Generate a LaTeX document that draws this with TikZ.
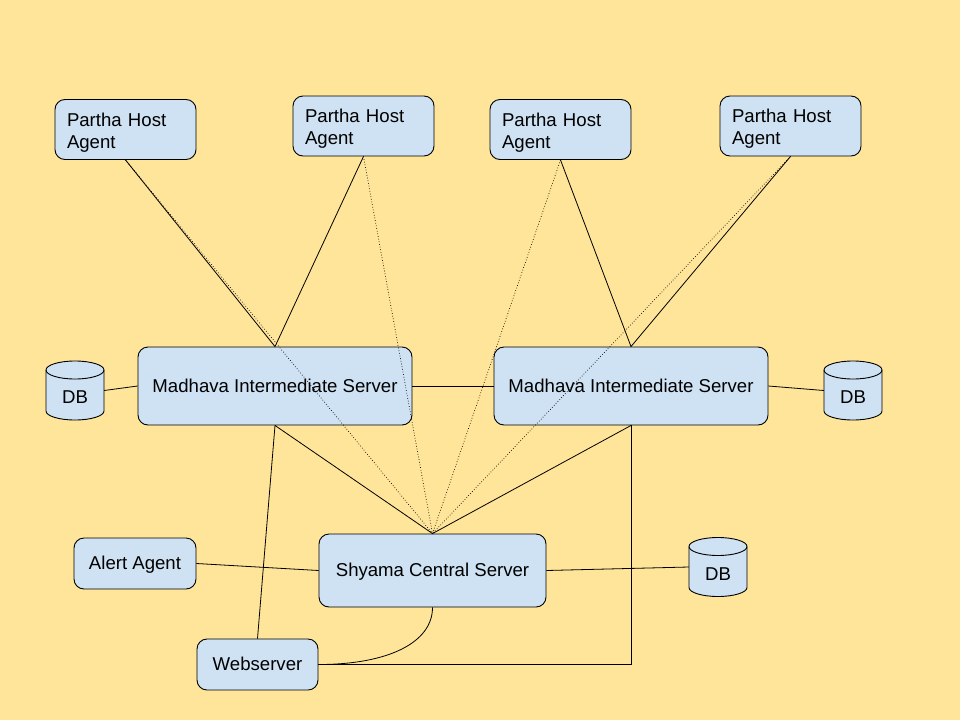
\documentclass[tikz,border=0pt]{standalone}
\usepackage{fontspec}
\setmainfont{Liberation Sans}
\definecolor{bgyellow}{HTML}{FFE599}
\definecolor{boxblue}{HTML}{CFE2F3}
\begin{document}
\begin{tikzpicture}[x=1pt, y=-1pt,
    box/.style={draw, fill=boxblue, rounded corners=10pt, line width=0.9pt,
        font=\fontsize{18.6}{22}\selectfont},
    onebox/.style={box, text height=16.8pt, text depth=3.9pt},
    agentbox/.style={box, minimum width=141pt, minimum height=60pt, align=left,
        text width=117pt, inner xsep=12pt, inner ysep=0pt,
        text height=19.4pt, text depth=25.9pt},
    dbshape/.style={draw, fill=boxblue, line width=0.9pt},
    dbtext/.style={minimum width=58pt, minimum height=59pt, inner sep=0pt,
        text height=26.4pt, text depth=0pt, font=\fontsize{18.6}{22}\selectfont},
    link/.style={line width=0.8pt},
    dotlink/.style={dotted, line width=0.7pt}]
    \fill[bgyellow] (0,0) rectangle (960,720);
    \useasboundingbox (0,0) rectangle (960,720);
    % host agents
    \node[agentbox] (pha1) at (125.5,129.5) {Partha Host\\Agent};
    \node[agentbox] (pha2) at (363.5,126) {Partha Host\\Agent};
    \node[agentbox] (pha3) at (560.5,129.5) {Partha Host\\Agent};
    \node[agentbox] (pha4) at (790.5,126) {Partha Host\\Agent};
    % servers
    \node[onebox, minimum width=274pt, minimum height=78pt] (mis1) at (275,386) {Madhava Intermediate Server};
    \node[onebox, minimum width=274pt, minimum height=78pt] (mis2) at (631,386) {Madhava Intermediate Server};
    \node[onebox, minimum width=227pt, minimum height=73pt] (csrv) at (432.5,570.5) {Shyama Central Server};
    \node[onebox, minimum width=122pt, minimum height=51pt] (alert) at (135,563.5) {Alert Agent};
    \node[onebox, minimum width=121pt, minimum height=51pt] (web) at (257.5,664.5) {Webserver};
    % databases
    \foreach \n/\px/\py in {db1/75/390.5, db2/853/390.5, db3/718/567} {
        \path[dbshape] (\px-29,\py-20.5) -- ++(0,41)
            arc[start angle=180, end angle=360, x radius=29pt, y radius=9pt]
            -- ++(0,-41)
            arc[start angle=0, end angle=180, x radius=29pt, y radius=9pt] -- cycle;
        \draw[line width=0.9pt] (\px-29,\py-20.5)
            arc[start angle=180, end angle=360, x radius=29pt, y radius=9pt];
        \node[dbtext] (\n) at (\px,\py) {DB};
    }
    % links
    \draw[link] (pha1.south) -- (mis1.north) -- (pha2.south);
    \draw[link] (pha3.south) -- (mis2.north) -- (pha4.south);
    \foreach \a in {pha1,pha2,pha3,pha4}
        \draw[dotlink] (\a.south) -- (csrv.north);
    \draw[link] (mis1.south) -- (csrv.north) -- (mis2.south);
    \draw[link] (mis1.east) -- (mis2.west);
    \draw[link] (db1.east) -- (mis1.west);
    \draw[link] (mis2.east) -- (db2.west);
    \draw[link] (alert.east) -- (csrv.west);
    \draw[link] (csrv.east) -- (db3.west);
    \draw[link] (mis1.south) -- (web.north);
    \draw[link] (mis2.south) |- (web.east);
    \draw[link] (csrv.south) .. controls +(0,35) and +(70,0) .. (web.east);
\end{tikzpicture}
\end{document}
